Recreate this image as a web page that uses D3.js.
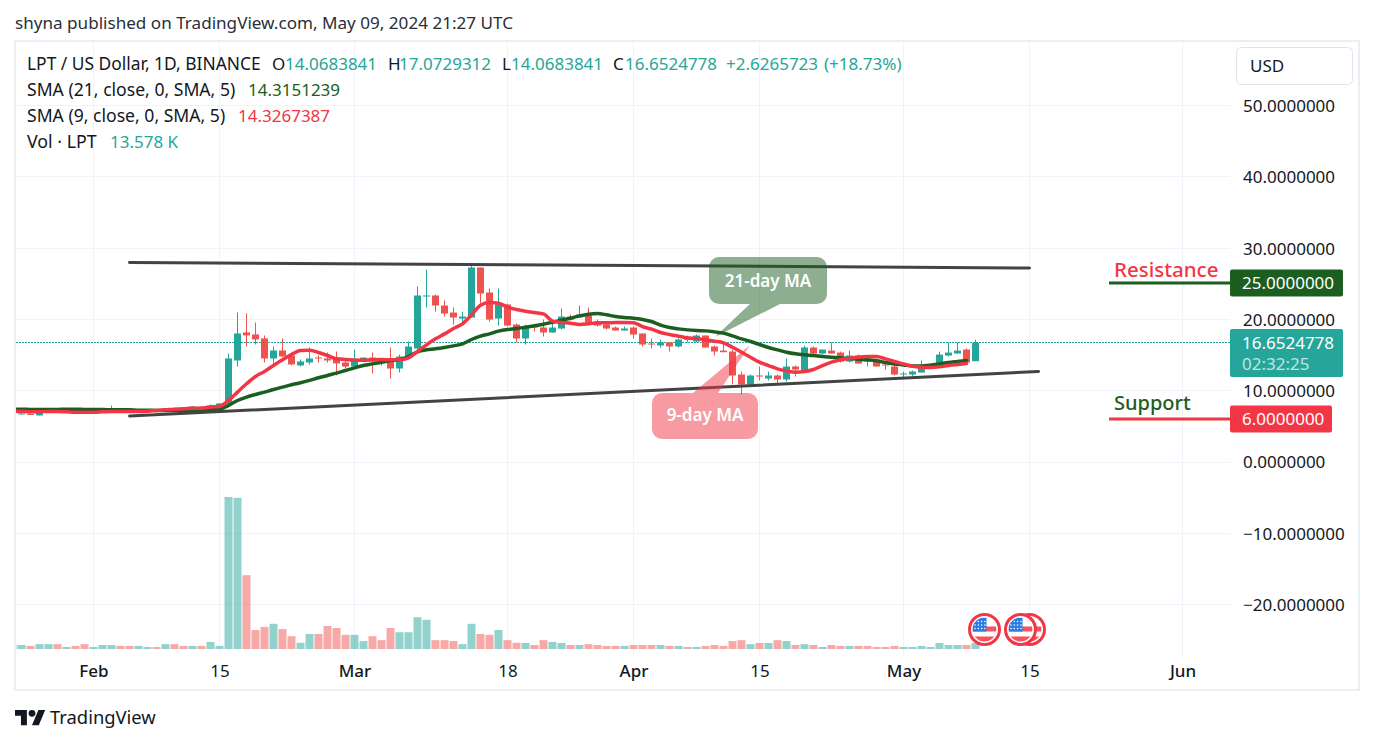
<!DOCTYPE html>
<html>
<head>
<meta charset="utf-8">
<title>LPT / US Dollar</title>
<script src="https://cdn.jsdelivr.net/npm/d3@7"></script>
<style>
  html, body { margin: 0; padding: 0; background: #fff; overflow: hidden; }
  text { font-family: "Noto Sans", sans-serif; }
</style>
</head>
<body>
<div id="chart"></div>
<script>
// daily candles, first one is Jan 23 2024, last one May 9 2024
const opens = [6.90,
  6.70,6.66,6.46,6.97,7.16,6.88,7.30,7.16,6.85,6.95,
  7.00,7.30,7.06,6.92,6.88,7.30,7.16,7.44,7.44,7.30,
  7.67,7.44,7.72,8.00,14.17,18.10,17.82,17.26,14.45,15.57,
  14.87,13.47,13.89,14.59,14.45,14.59,13.88,13.32,14.02,14.58,
  14.30,14.16,13.04,14.58,15.85,23.19,23.28,21.88,20.89,20.05,
  20.19,27.21,23.70,20.05,22.02,19.21,17.25,19.07,18.79,18.09,
  18.65,20.33,20.19,20.47,19.63,19.21,18.79,18.37,18.79,17.95,
  16.55,16.27,16.69,16.13,17.53,16.83,17.67,16.13,15.56,15.42,
  12.20,10.80,12.06,11.64,12.06,11.50,13.32,12.76,15.99,15.14,
  15.56,15.28,14.02,14.86,14.30,14.02,13.60,13.32,12.20,12.20,
  12.48,13.46,13.46,14.86,15.14,15.70,14.0683841];
const highs = [7.10,
  6.78,6.70,7.02,7.12,7.30,7.30,7.39,7.20,7.05,7.20,
  7.85,7.35,7.20,7.15,7.30,7.40,7.48,7.55,7.60,7.80,
  7.75,8.00,8.20,15.15,20.90,20.76,19.50,17.68,16.13,17.26,
  15.29,14.31,15.99,14.87,15.29,15.43,14.16,15.70,14.58,15.28,
  14.44,15.99,15.00,16.83,24.54,26.93,23.42,22.58,21.60,21.03,
  27.49,27.21,24.26,24.26,22.16,19.35,19.21,19.21,19.91,19.63,
  21.46,20.61,21.88,21.60,19.91,19.35,18.93,18.93,18.93,17.95,
  17.25,17.11,16.69,17.25,17.67,17.81,17.67,16.27,16.69,15.70,
  12.62,12.20,13.32,12.62,12.20,14.44,13.46,16.27,16.13,15.70,
  16.69,15.42,15.56,15.00,14.72,14.44,13.88,13.46,12.62,12.76,
  14.16,13.74,15.42,16.69,16.69,15.85,17.0729312];
const lows = [6.85,
  6.62,6.52,6.46,6.90,6.95,6.85,6.88,6.88,6.80,6.90,
  6.95,6.85,6.90,6.88,6.85,7.10,7.10,7.25,7.25,7.25,
  7.35,7.40,7.70,7.90,13.33,16.13,16.41,13.89,13.70,14.64,
  13.47,13.33,13.61,13.89,13.89,12.07,13.04,13.18,14.02,12.34,
  13.46,11.64,12.48,14.44,15.42,21.60,21.03,20.33,19.21,19.49,
  20.19,22.11,19.63,19.07,18.93,16.69,16.41,18.23,17.53,18.09,
  18.51,19.77,20.19,19.21,18.93,18.51,18.37,18.37,17.25,16.13,
  15.85,15.99,15.42,15.99,16.69,16.69,15.99,14.86,15.33,10.80,
  9.39,10.52,11.36,11.36,10.94,11.22,11.92,12.62,15.00,15.00,
  15.14,13.88,13.88,13.74,13.32,13.32,12.90,12.06,11.50,11.92,
  12.48,13.46,13.32,14.72,15.14,13.88,14.0683841];
const closes = [7.05,
  6.74,6.62,6.97,7.11,7.00,7.30,6.90,6.90,7.00,7.16,
  7.16,6.88,6.92,7.11,7.30,7.16,7.44,7.30,7.30,7.72,
  7.44,7.86,8.14,14.45,17.96,17.68,17.12,14.45,15.57,14.73,
  13.61,14.03,14.45,14.45,14.17,13.75,13.32,14.44,14.58,14.02,
  14.16,13.04,14.72,16.13,23.28,23.28,21.88,20.75,20.19,20.33,
  27.21,23.56,19.91,22.02,19.07,17.25,18.93,18.79,18.09,18.79,
  20.33,19.91,20.61,19.49,19.07,18.65,18.37,18.65,17.81,16.41,
  16.41,16.69,16.13,17.11,17.06,17.67,15.99,15.42,15.33,12.06,
  10.80,12.06,11.92,12.06,11.50,13.32,12.90,15.99,15.14,15.70,
  15.14,14.02,14.86,13.74,14.02,13.32,13.46,12.20,12.34,12.62,
  13.46,13.60,15.00,15.28,15.56,13.88,16.6524778];
// volume in thousands
const volumes = [9,
  9,7,11,11,11,4.5,7,11,4.5,9,
  9,7,7,7,4.5,4.5,11,11,7,7,
  7,16,7,344,342,167,43,50,57,45,
  29,14,34,34,52,47.5,32,32,18,29,
  20,47.5,38,38,72,66,20,20,18,11,
  57,34,32,43,20,14,
  13.6,9,20,16,13.6,9,9,11,9,7,
  7,7,9,9,9,9,7,7,4.5,4.5,
  7,9,7,18,20,11,13.6,13.6,20,18,
  9,11,9,4.5,9,7,7,7,7,4.5,
  4.5,7,4.5,4.5,7,4.5,13.6,9,9,9,13.578];
const sma21 = [7.34,
  7.34,7.30,7.30,7.30,7.30,7.34,7.34,7.30,7.30,7.30,
  7.25,7.25,7.25,7.20,7.20,7.16,7.16,7.16,7.16,7.20,
  7.20,7.25,7.34,7.86,8.56,9.03,9.40,9.73,10.10,10.43,
  10.76,11.04,11.37,11.74,12.07,12.39,12.76,13.13,13.46,13.69,
  13.93,14.16,14.30,14.72,15.38,15.66,15.80,15.99,16.22,16.50,
  17.11,17.58,17.90,18.28,18.51,18.65,18.84,19.03,19.26,19.54,
  19.82,20.10,20.43,20.66,20.75,20.57,20.33,20.19,20.10,19.91,
  19.63,19.12,18.79,18.60,18.46,18.37,18.32,18.18,18.00,17.62,
  17.20,16.83,16.41,15.99,15.66,15.33,15.10,14.96,14.86,14.72,
  14.63,14.54,14.44,14.35,14.26,14.12,13.88,13.69,13.55,13.41,
  13.41,13.51,13.69,13.88,14.02,14.16];
const sma9 = [7.06,
  7.02,6.97,6.97,7.02,7.02,6.97,6.92,6.92,6.92,6.97,
  7.02,7.02,7.02,7.02,7.06,7.16,7.25,7.34,7.39,7.48,
  7.48,7.63,7.72,8.56,9.73,10.90,11.93,12.63,13.47,14.26,
  15.01,15.57,15.62,15.29,14.87,14.40,14.30,14.21,14.21,14.26,
  14.30,14.26,14.26,14.54,15.42,16.36,17.20,17.90,18.65,19.31,
  20.57,21.92,22.30,22.20,21.64,21.32,21.08,20.89,20.71,19.68,
  19.49,19.40,19.21,19.31,19.45,19.45,19.49,19.49,19.45,18.93,
  18.56,18.09,17.81,17.58,17.34,17.25,17.06,16.87,16.64,16.03,
  15.33,14.63,13.93,13.46,12.99,12.71,12.53,12.62,12.90,13.46,
  13.93,14.26,14.49,14.63,14.72,14.72,14.40,14.02,13.69,13.37,
  13.23,13.18,13.27,13.46,13.60,13.74];

const priceTicks = [50, 40, 30, 20, 10, 0, -10, -20];
const timeTicks = ["2024-02-01", "2024-02-15", "2024-03-01", "2024-03-18", "2024-04-01", "2024-04-15", "2024-05-01", "2024-05-15", "2024-06-01"];
const timeLabels = ["Feb", "15", "Mar", "18", "Apr", "15", "May", "15", "Jun"];
const eventDates = ["2024-05-10", "2024-05-15", "2024-05-14"];
const resistanceLine = [["2024-02-05", 27.91], ["2024-05-15", 27.14]];
const supportLine = [["2024-02-05", 6.38], ["2024-05-16", 12.62]];

const teal = "#26a69a", red = "#ef5350", smaRed = "#f23645", smaGreen = "#1b5e20";
const textColor = "#131722";

const parseDay = d3.utcParse("%Y-%m-%d");
const dates = d3.utcDay.range(parseDay("2024-01-23"), parseDay("2024-05-10"));

const svg = d3.select("#chart").append("svg")
  .attr("width", 1374)
  .attr("height", 744);

const x = d3.scaleUtc()
  .domain([parseDay("2024-02-01"), parseDay("2024-06-01")])
  .range([93.5, 1182.5]);
const y = d3.scaleLinear()
  .domain([-20, 50])
  .range([604.1, 105]);
const yVol = d3.scaleLinear()
  .domain([0, 344])
  .range([649, 497]);

svg.append("defs").append("clipPath").attr("id", "pane")
  .append("rect").attr("x", 16).attr("y", 42).attr("width", 1214).attr("height", 615);

// frame
svg.append("rect")
  .attr("x", 15).attr("y", 41).attr("width", 1344).attr("height", 649)
  .attr("fill", "none").attr("stroke", "#eceef5").attr("stroke-width", 2);

// grid
const grid = svg.append("g").attr("stroke", "#f0f3fa").attr("stroke-width", 1);
grid.selectAll(".h").data(priceTicks).enter().append("line")
  .attr("x1", 16).attr("x2", 1230)
  .attr("y1", d => Math.round(y(d)) + 0.5).attr("y2", d => Math.round(y(d)) + 0.5);
grid.selectAll(".v").data(timeTicks).enter().append("line")
  .attr("x1", d => x(parseDay(d))).attr("x2", d => x(parseDay(d)))
  .attr("y1", 42).attr("y2", 657);

const pane = svg.append("g").attr("clip-path", "url(#pane)");

// current price line
pane.append("line")
  .attr("x1", 16).attr("x2", 1230)
  .attr("y1", Math.floor(y(closes[closes.length - 1])) + 0.5)
  .attr("y2", Math.floor(y(closes[closes.length - 1])) + 0.5)
  .attr("stroke", teal).attr("stroke-dasharray", "2 1")
  .attr("shape-rendering", "crispEdges");

// volume
pane.selectAll(".vol").data(volumes).enter().append("rect")
  .attr("x", (d, i) => x(dates[i]) - 4)
  .attr("width", 8)
  .attr("y", d => yVol(d))
  .attr("height", d => yVol(0) - yVol(d))
  .attr("fill", (d, i) => closes[i] >= opens[i] ? teal : red)
  .attr("opacity", 0.5);

// candles
const candles = pane.selectAll(".candle").data(dates).enter().append("g");
candles.append("line")
  .attr("x1", d => x(d)).attr("x2", d => x(d))
  .attr("y1", (d, i) => y(highs[i])).attr("y2", (d, i) => y(lows[i]))
  .attr("stroke", (d, i) => closes[i] >= opens[i] ? teal : red);
candles.append("rect")
  .attr("x", d => x(d) - 3.5)
  .attr("width", 7)
  .attr("y", (d, i) => y(Math.max(opens[i], closes[i])))
  .attr("height", (d, i) => Math.max(1, Math.abs(y(opens[i]) - y(closes[i]))))
  .attr("fill", (d, i) => closes[i] >= opens[i] ? teal : red);

// moving averages
const smaLine = d3.line().x((d, i) => x(dates[i])).y(d => y(d)).curve(d3.curveMonotoneX);
pane.append("path").attr("d", smaLine(sma21))
  .attr("fill", "none").attr("stroke", smaGreen).attr("stroke-width", 3.5).attr("stroke-linecap", "round");
pane.append("path").attr("d", smaLine(sma9))
  .attr("fill", "none").attr("stroke", smaRed).attr("stroke-width", 3.5).attr("stroke-linecap", "round");

// trend lines
const trendLine = d3.line().x(d => x(parseDay(d[0]))).y(d => y(d[1]));
[resistanceLine, supportLine].forEach(l => {
  svg.append("path").attr("d", trendLine(l))
    .attr("fill", "none").attr("stroke", "#434343").attr("stroke-width", 3).attr("stroke-linecap", "round");
});

// event flags
const flags = svg.selectAll(".flag").data(eventDates).enter().append("g")
  .attr("transform", d => "translate(" + x(parseDay(d)) + ",629.5)");
flags.append("circle").attr("r", 15).attr("fill", "#fff").attr("stroke", "#f23645").attr("stroke-width", 3);
flags.each(function (d, i) {
  const g = d3.select(this);
  const id = "flag" + i;
  g.append("clipPath").attr("id", id).append("circle").attr("r", 12);
  const f = g.append("g").attr("clip-path", "url(#" + id + ")");
  f.append("rect").attr("x", -12).attr("y", -3).attr("width", 24).attr("height", 5).attr("fill", "#f7525f");
  f.append("rect").attr("x", -12).attr("y", 7).attr("width", 24).attr("height", 6).attr("fill", "#f7525f");
  f.append("rect").attr("x", -12).attr("y", -12).attr("width", 14).attr("height", 14).attr("fill", "#2a7de1");
  d3.range(3).forEach(r => d3.range(4).forEach(c => {
    f.append("circle").attr("cx", -9.5 + c * 3.3).attr("cy", -8 + r * 3.5).attr("r", 0.8).attr("fill", "#fff");
  }));
});

// callouts
const callout = svg.append("g");
callout.append("path").attr("d", "M750,304L780,304L715,337Z").attr("fill", smaGreen).attr("opacity", 0.5);
callout.append("rect").attr("x", 709).attr("y", 257).attr("width", 118).attr("height", 47).attr("rx", 10)
  .attr("fill", smaGreen).attr("opacity", 0.5);
callout.append("text").attr("x", 768).attr("y", 281).attr("text-anchor", "middle").attr("dy", "0.35em")
  .attr("fill", "#fff").attr("font-size", 17).attr("font-weight", 600).text("21-day MA");
callout.append("path").attr("d", "M693,393L718,393L750,345Z").attr("fill", smaRed).attr("opacity", 0.5);
callout.append("rect").attr("x", 652).attr("y", 393).attr("width", 106).attr("height", 46).attr("rx", 10)
  .attr("fill", smaRed).attr("opacity", 0.5);
callout.append("text").attr("x", 705).attr("y", 415).attr("text-anchor", "middle").attr("dy", "0.35em")
  .attr("fill", "#fff").attr("font-size", 17).attr("font-weight", 600).text("9-day MA");

// price axis
const yAxis = d3.axisRight(y)
  .tickValues(priceTicks)
  .tickSize(0)
  .tickPadding(0)
  .tickFormat(d3.format(".7f"));
const yAxisG = svg.append("g").attr("transform", "translate(1243,1)").call(yAxis);
yAxisG.select(".domain").remove();
yAxisG.selectAll("text").attr("font-size", 17).attr("fill", textColor);

// time axis
const xAxis = d3.axisBottom(x)
  .tickValues(timeTicks.map(parseDay))
  .tickSize(0)
  .tickPadding(0)
  .tickFormat((d, i) => timeLabels[i]);
const xAxisG = svg.append("g").attr("transform", "translate(0,665)").call(xAxis);
xAxisG.select(".domain").remove();
xAxisG.selectAll("text").attr("font-size", 17).attr("fill", textColor)
  .attr("font-weight", (d, i) => /\d/.test(timeLabels[i]) ? 400 : 500);

// support and resistance labels
function levelLabel(value, color, boxWidth, title, titleSize, titleY, titleColor) {
  const yy = Math.round(y(value));
  svg.append("line").attr("x1", 1109).attr("x2", 1230).attr("y1", yy).attr("y2", yy)
    .attr("stroke", color).attr("stroke-width", 3);
  svg.append("rect").attr("x", 1230).attr("y", yy - 13.5).attr("width", boxWidth).attr("height", 27)
    .attr("rx", 2).attr("fill", color);
  svg.append("text").attr("x", 1242).attr("y", yy + 0.5).attr("dy", "0.35em")
    .attr("fill", "#fff").attr("font-size", 17).text(d3.format(".7f")(value));
  svg.append("text").attr("x", 1114).attr("y", titleY).attr("dy", "0.35em")
    .attr("fill", titleColor).attr("font-size", titleSize).attr("font-weight", 500).text(title);
}
levelLabel(25, smaGreen, 113, "Resistance", 20.5, 270, "#f23645");
levelLabel(6, "#f23645", 102, "Support", 20, 403, smaGreen);

// last price label
svg.append("rect").attr("x", 1230).attr("y", 329).attr("width", 113).attr("height", 48).attr("rx", 2).attr("fill", teal);
svg.append("text").attr("x", 1242).attr("y", 343).attr("dy", "0.35em")
  .attr("fill", "#fff").attr("font-size", 17).text("16.6524778");
svg.append("text").attr("x", 1242).attr("y", 364).attr("dy", "0.35em")
  .attr("fill", "#fff").attr("opacity", 0.7).attr("font-size", 17).text("02:32:25");

// currency button
svg.append("rect").attr("x", 1236.5).attr("y", 47.5).attr("width", 116).attr("height", 37).attr("rx", 5)
  .attr("fill", "#fff").attr("stroke", "#e0e3eb");
svg.append("text").attr("x", 1250).attr("y", 66).attr("dy", "0.35em")
  .attr("fill", textColor).attr("font-size", 17).text("USD");

// header + legend
function label(px, py, str, color, size) {
  svg.append("text").attr("x", px).attr("y", py + 1).attr("dy", "0.35em")
    .attr("fill", color).attr("font-size", size || 17).text(str);
}
label(15, 22, "shyna published on TradingView.com, May 09, 2024 21:27 UTC", "#2a2e39", 17.1);
label(27, 63, "LPT / US Dollar, 1D, BINANCE", textColor, 17.4);
label(272, 63, "O", textColor);
label(285, 63, "14.0683841", teal);
label(388, 63, "H", textColor);
label(399, 63, "17.0729312", teal);
label(502, 63, "L", textColor);
label(511, 63, "14.0683841", teal);
label(613, 63, "C", textColor);
label(625, 63, "16.6524778", teal);
label(726, 63, "+2.6265723", teal);
label(824, 63, "(+18.73%)", teal);
label(27, 89, "SMA (21, close, 0, SMA, 5)", textColor, 17.6);
label(248, 89, "14.3151239", smaGreen);
label(27, 115, "SMA (9, close, 0, SMA, 5)", textColor, 17.6);
label(238, 115, "14.3267387", "#f23645");
label(27, 141, "Vol · LPT", textColor, 17.8);
label(110, 141, "13.578 K", teal);

// footer logo
const logo = svg.append("g").attr("transform", "translate(15,706.5) scale(0.85)").attr("fill", textColor);
logo.append("path").attr("d", "M14 22H7V11H0V4h14v18zM28 22h-8l7.5-18h8L28 22z");
logo.append("circle").attr("cx", 20).attr("cy", 8).attr("r", 4);
svg.append("text").attr("x", 50).attr("y", 718).attr("dy", "0.35em")
  .attr("fill", textColor).attr("font-size", 18.4).text("TradingView");
</script>
</body>
</html>
